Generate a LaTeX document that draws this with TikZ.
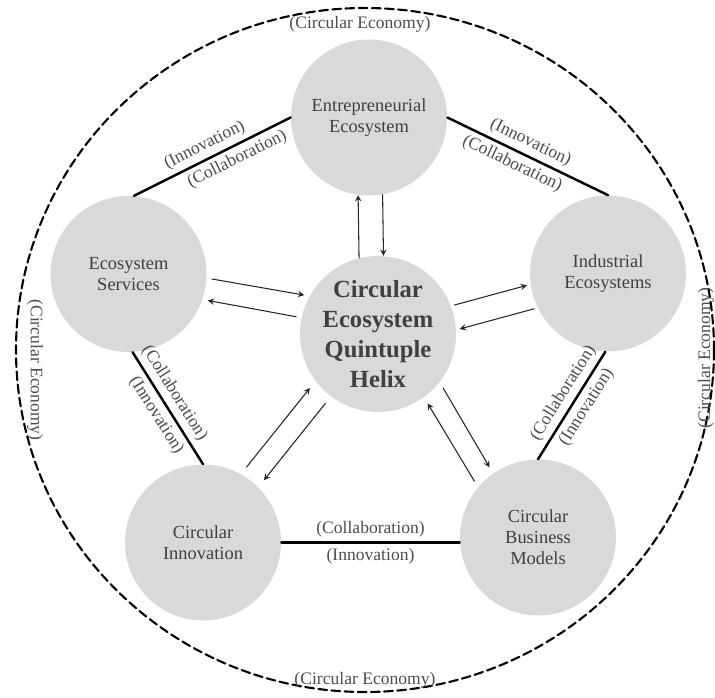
\documentclass[tikz,border=0pt]{standalone}
\usepackage{fontspec}
\setmainfont{Liberation Serif}
\usetikzlibrary{calc}

\begin{document}
\begin{tikzpicture}[line cap=round,line join=round,>=stealth,
  helix/.style={circle,fill=black!15,minimum size=3.12cm,inner sep=0pt,align=center,
    text=black!75,font=\fontsize{10.5}{12}\selectfont},
  link/.style={line width=1.4pt},
  flow/.style={->,line width=0.6pt,black!85},
  tag/.style={text=black!70,font=\fontsize{10}{12}\selectfont,inner sep=2.5pt}]

\useasboundingbox (0,0) rectangle (14.3,13.94);

% -----------------------
% Outer boundary
% -----------------------
\draw[line width=1.2pt,dash pattern=on 5pt off 2.5pt]
  (7.3,6.94) ellipse [x radius=6.98, y radius=6.84];

\node[tag] (ceN) at (7.2,13.46) {(Circular Economy)};
\node[tag] (ceS) at (7.3,0.34) {(Circular Economy)};
\node[tag,rotate=-90] (ceW) at (0.70,6.54) {(Circular Economy)};
\node[tag,rotate=90] (ceE) at (14.12,6.78) {(Circular Economy)};

% -----------------------
% The five helices + core
% -----------------------
\node[helix] (ent) at (7.38,11.59) {Entrepreneurial\\Ecosystem};
\node[helix] (srv) at (2.57,8.46) {Ecosystem\\Services};
\node[helix] (ind) at (12.16,8.47) {Industrial\\Ecosystems};
\node[helix,font=\bfseries\fontsize{14}{17}\selectfont] (core) at (7.56,7.26)
  {Circular\\Ecosystem\\Quintuple\\Helix};
\node[helix] (inn) at (4.06,3.09) {Circular\\Innovation};
\node[helix] (cbm) at (10.76,3.19) {Circular\\Business\\Models};

% -----------------------
% Outer ring links
% -----------------------
\draw[link] (srv.86) --
  node[tag,sloped,above,pos=0.49] {(Innovation)}
  node[tag,sloped,below,pos=0.62] {(Collaboration)} (ent.west);
\draw[link] (ent.east) --
  node[tag,sloped,above,pos=0.48] {(Innovation)}
  node[tag,sloped,below,pos=0.44] {(Collaboration)} (ind.north);
\draw[link] (srv.-87) --
  node[tag,sloped,above,pos=0.43] {(Collaboration)}
  node[tag,sloped,below,pos=0.5] {(Innovation)} (inn.north);
\draw[link] (cbm.north) --
  node[tag,sloped,above,pos=0.55] {(Collaboration)}
  node[tag,sloped,below,pos=0.55] {(Innovation)} (ind.-92);
\draw[link] (inn.east) --
  node[tag,above] {(Collaboration)}
  node[tag,below] {(Innovation)} (inn.east -| cbm.west);

% -----------------------
% Flows to and from the core
% -----------------------
\draw[flow] (core.104) -- (ent.262);
\draw[flow] (ent.280) -- (core.86);
\draw[flow,shorten <=3pt,shorten >=3pt] (srv.-3) -- (core.151);
\draw[flow,shorten <=3pt,shorten >=3pt] (core.168) -- (srv.-19);
\draw[flow,shorten <=2pt,shorten >=2pt] (core.21) -- (ind.188);
\draw[flow,shorten <=2pt,shorten >=2pt] (ind.206) -- (core.3.5);
\draw[flow,shorten <=5pt,shorten >=5pt] (inn.61) -- (core.217);
\draw[flow,shorten <=5pt,shorten >=5pt] (core.233) -- (inn.45);
\draw[flow,shorten <=4pt,shorten >=4pt] (core.-38) -- (cbm.125);
\draw[flow,shorten <=4pt,shorten >=4pt] (cbm.140) -- (core.-54);

\end{tikzpicture}
\end{document}
